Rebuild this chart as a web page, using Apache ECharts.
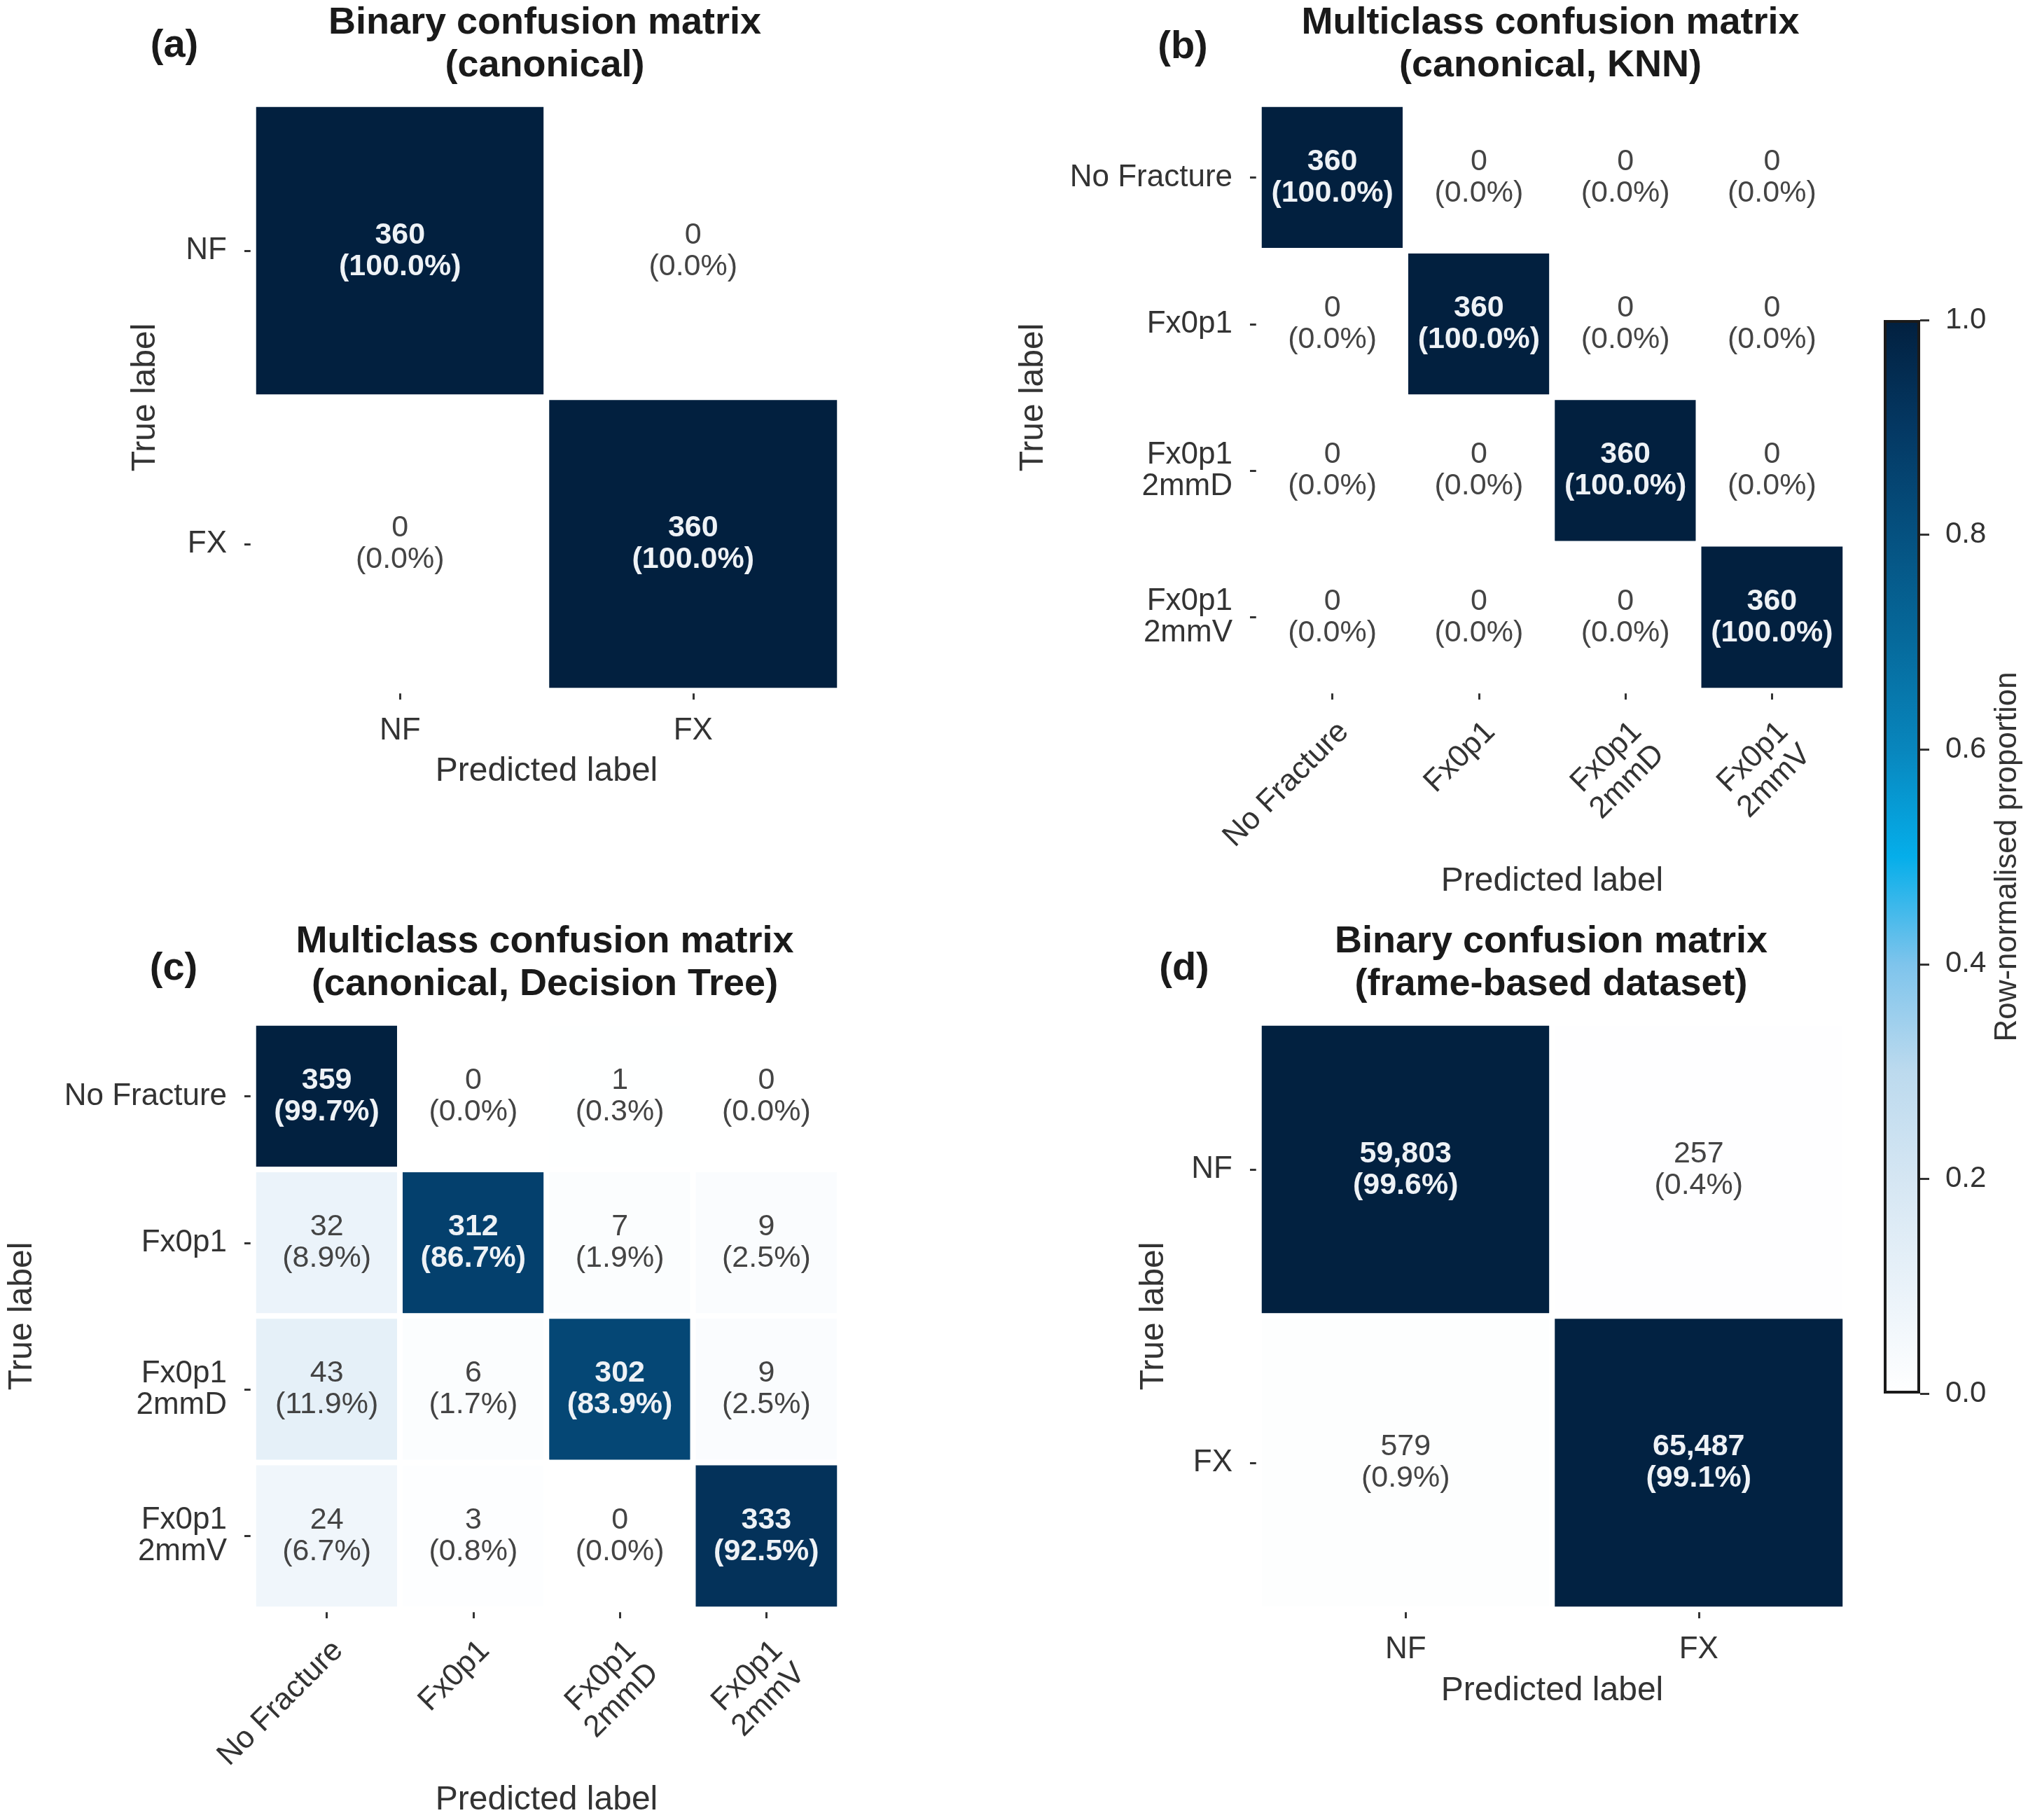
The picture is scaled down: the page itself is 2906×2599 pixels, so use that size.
<!DOCTYPE html>
<html>
<head>
<meta charset="utf-8">
<script src="https://cdn.jsdelivr.net/npm/echarts@6/dist/echarts.min.js"></script>
<style>html,body{margin:0;padding:0;background:#fff}#c{width:2906px;height:2599px}</style>
</head>
<body>
<div id="c"></div>
<script>
// ---------- data ----------
const binaryCats = ['NF', 'FX'];
const multiCats = ['No Fracture', 'Fx0p1', 'Fx0p1\n2mmD', 'Fx0p1\n2mmV'];

const countsA = [[360, 0], [0, 360]];
const pctA = [[100.0, 0.0], [0.0, 100.0]];

const countsB = [[360, 0, 0, 0], [0, 360, 0, 0], [0, 0, 360, 0], [0, 0, 0, 360]];
const pctB = [[100.0, 0.0, 0.0, 0.0], [0.0, 100.0, 0.0, 0.0], [0.0, 0.0, 100.0, 0.0], [0.0, 0.0, 0.0, 100.0]];

const countsC = [[359, 0, 1, 0], [32, 312, 7, 9], [43, 6, 302, 9], [24, 3, 0, 333]];
const pctC = [[99.7, 0.0, 0.3, 0.0], [8.9, 86.7, 1.9, 2.5], [11.9, 1.7, 83.9, 2.5], [6.7, 0.8, 0.0, 92.5]];

const countsD = [[59803, 257], [579, 65487]];
const pctD = [[99.6, 0.4], [0.9, 99.1]];

const panelTitles = ['Binary confusion matrix\n(canonical)', 'Multiclass confusion matrix\n(canonical, KNN)',
  'Multiclass confusion matrix\n(canonical, Decision Tree)', 'Binary confusion matrix\n(frame-based dataset)'];
const panelLetters = ['(a)', '(b)', '(c)', '(d)'];
const colorbarName = 'Row-normalised proportion';
const xName = 'Predicted label';
const yName = 'True label';

// colormap stops (value 0 .. 1, step 0.1)
const cmap = ['#ffffff', '#e9f2f9', '#d5e6f3', '#bcdaee', '#7ec4ec', '#05aeea', '#0886bd', '#066a9c', '#055180', '#043863', '#02203f'];

// ---------- layout ----------
const FONT = "'Liberation Sans', Arial, sans-serif";
const B = 4; // half of cell border
const grids = [
  {left: 366 - B, top: 153 - B, width: 829 + 2 * B, height: 829 + 2 * B},
  {left: 1802 - B, top: 153 - B, width: 829 + 2 * B, height: 829 + 2 * B},
  {left: 366 - B, top: 1465 - B, width: 829 + 2 * B, height: 829 + 2 * B},
  {left: 1802 - B, top: 1465 - B, width: 829 + 2 * B, height: 829 + 2 * B},
  {left: 2690, top: 457, width: 52, height: 1533}
];
const catsList = [binaryCats, multiCats, multiCats, binaryCats];
const countsList = [countsA, countsB, countsC, countsD];
const pctList = [pctA, pctB, pctC, pctD];
const xNameGap = [92, 249, 249, 93];
const yNameGap = [130, 298, 306, 126];
const titlePos = [[778, 64], [2214, 64], [778, 1376], [2215, 1376]];
const letterPos = [[249, 66], [1689, 68], [248, 1384], [1691, 1384]];

function fmtCount(n) { return n.toLocaleString('en-US'); }

function makeData(counts, pct) {
  const out = [];
  for (let r = 0; r < counts.length; r++) {
    for (let c = 0; c < counts[r].length; c++) {
      const v = pct[r][c] / 100;
      const dark = v > 0.5;
      out.push({
        value: [c, r, v],
        label: {
          formatter: fmtCount(counts[r][c]) + '\n(' + pct[r][c].toFixed(1) + '%)',
          color: dark ? '#eef2f6' : '#444444',
          fontWeight: dark ? 'bold' : 'normal'
        }
      });
    }
  }
  return out;
}

const xAxes = [], yAxes = [], series = [];
for (let i = 0; i < 4; i++) {
  const multi = catsList[i].length > 2;
  xAxes.push({
    type: 'category', gridIndex: i, data: catsList[i], position: 'bottom',
    axisLine: {show: false},
    axisTick: {show: true, alignWithLabel: true, length: 13, lineStyle: {color: '#333', width: 3}},
    axisLabel: multi
      ? {fontSize: 44, color: '#333', fontFamily: FONT, margin: 36, rotate: 45, lineHeight: 46, interval: 0, verticalAlign: 'top'}
      : {fontSize: 44, color: '#333', fontFamily: FONT, margin: 35, lineHeight: 46, interval: 0},
    splitLine: {show: false},
    name: xName, nameLocation: 'middle', nameGap: xNameGap[i],
    nameTextStyle: {fontSize: 48, color: '#333', fontFamily: FONT}
  });
  yAxes.push({
    type: 'category', gridIndex: i, data: catsList[i], inverse: true,
    axisLine: {show: false},
    axisTick: {show: true, alignWithLabel: true, length: 13, lineStyle: {color: '#333', width: 3}},
    axisLabel: {fontSize: 44, color: '#333', fontFamily: FONT, margin: 38, lineHeight: 45, interval: 0},
    splitLine: {show: false},
    name: yName, nameLocation: 'middle', nameGap: yNameGap[i], nameRotate: 90,
    nameTextStyle: {fontSize: 48, color: '#333', fontFamily: FONT}
  });
  series.push({
    type: 'heatmap', xAxisIndex: i, yAxisIndex: i,
    data: makeData(countsList[i], pctList[i]),
    itemStyle: {borderColor: '#ffffff', borderWidth: 2 * B},
    label: {show: true, fontSize: 43, lineHeight: 45, fontFamily: FONT},
    emphasis: {disabled: true}
  });
}

// colorbar axes
xAxes.push({type: 'category', gridIndex: 4, data: [''], show: false});
yAxes.push({
  type: 'value', gridIndex: 4, min: 0, max: 1, interval: 0.2, position: 'right',
  axisLine: {show: false},
  axisTick: {show: true, length: 13, lineStyle: {color: '#333', width: 3}},
  axisLabel: {fontSize: 42, color: '#333', fontFamily: FONT, margin: 36, formatter: v => v.toFixed(1)},
  splitLine: {show: false},
  name: colorbarName, nameLocation: 'middle', nameGap: 103, nameRotate: 90,
  nameTextStyle: {fontSize: 44, color: '#333', fontFamily: FONT}
});
series.push({
  type: 'bar', xAxisIndex: 4, yAxisIndex: 4, data: [1], barWidth: '100%', silent: true,
  itemStyle: {
    color: {type: 'linear', x: 0, y: 0, x2: 0, y2: 1,
      colorStops: cmap.map((c, k) => ({offset: 1 - k / (cmap.length - 1), color: c})).reverse()},
    borderColor: '#1a1a1a', borderWidth: 4
  }
});

const graphics = [];
for (let i = 0; i < 4; i++) {
  graphics.push({type: 'text', x: titlePos[i][0], y: titlePos[i][1], silent: true,
    style: {text: panelTitles[i], fontSize: 54, fontWeight: 'bold', fontFamily: FONT, fill: '#1a1a1a',
      align: 'center', verticalAlign: 'middle', lineHeight: 61}});
  graphics.push({type: 'text', x: letterPos[i][0], y: letterPos[i][1], silent: true,
    style: {text: panelLetters[i], fontSize: 56, fontWeight: 'bold', fontFamily: FONT, fill: '#1a1a1a',
      align: 'center', verticalAlign: 'middle'}});
}

const chart = echarts.init(document.getElementById('c'), null, {renderer: 'canvas'});
chart.setOption({
  backgroundColor: '#ffffff',
  animation: false,
  grid: grids,
  xAxis: xAxes,
  yAxis: yAxes,
  visualMap: {type: 'continuous', show: false, min: 0, max: 1, dimension: 2, seriesIndex: [0, 1, 2, 3],
    inRange: {color: cmap}},
  series: series,
  graphic: graphics
});
</script>
</body>
</html>
